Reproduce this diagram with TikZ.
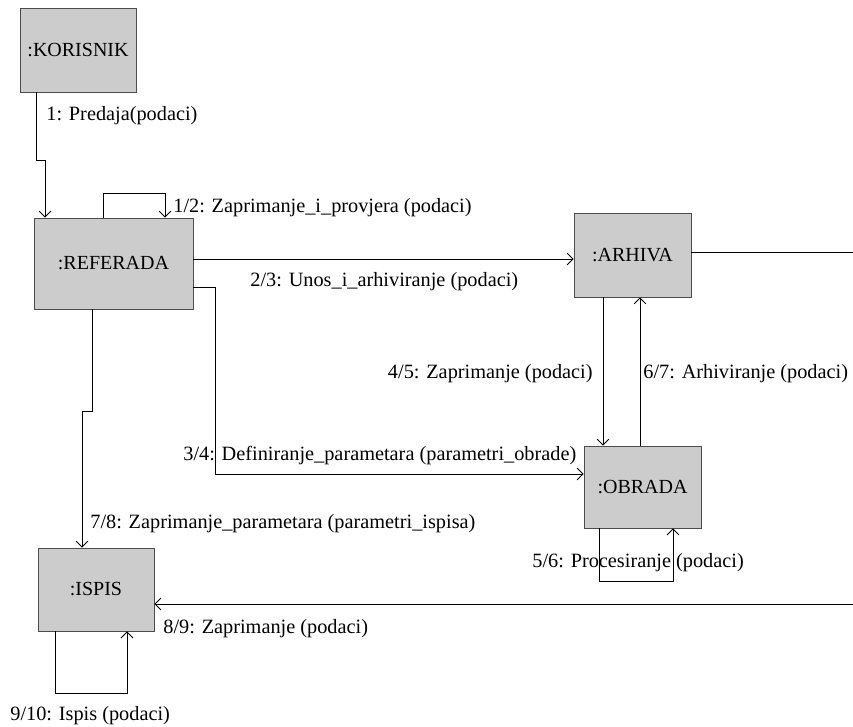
\documentclass[tikz,border=0pt]{standalone}
\usepackage{fontspec}
\setmainfont{Liberation Serif}
\usetikzlibrary{arrows.meta}

\begin{document}
\begin{tikzpicture}[x=1pt,y=-1pt,line width=0.8pt,
  obj/.style={draw=black!70,fill=black!20,font=\fontsize{20}{24}\selectfont},
  lbl/.style={inner sep=0pt,anchor=base west,font=\fontsize{20.3}{24}\selectfont},
  msg/.style={-{Straight Barb[length=6pt,width=12pt]}}]
  \useasboundingbox (0,0) rectangle (853,727);
  \node[obj,minimum width=116pt,minimum height=84pt] (kor) at (78,50) {:KORISNIK};
  \node[obj,minimum width=159pt,minimum height=91pt] (ref) at (113.5,263.5) {:REFERADA};
  \node[obj,minimum width=117pt,minimum height=84pt] (arh) at (632.5,255) {:ARHIVA};
  \node[obj,minimum width=117pt,minimum height=82pt] (obr) at (642.5,487) {:OBRADA};
  \node[obj,minimum width=116pt,minimum height=83pt] (isp) at (96,589.5) {:ISPIS};
  % bend points
  \coordinate (k1) at (36,160); \coordinate (k2) at (45,160);
  \coordinate (r1) at (103,193); \coordinate (r2) at (165,193);
  \coordinate (ra) at (400,259); \coordinate (aout) at (853,252);
  \coordinate (ro1) at (215,287); \coordinate (ro2) at (215,474);
  \coordinate (ao) at (603,370); \coordinate (oa) at (640,370);
  \coordinate (o1) at (599,581); \coordinate (o2) at (673,581);
  \coordinate (iin) at (853,604);
  \coordinate (i1) at (55,693); \coordinate (i2) at (127,693);
  \coordinate (ri1) at (92,411); \coordinate (ri2) at (82,411);
  % messages
  \draw[msg] (k1 |- kor.south) -- (k1) -- (k2) -- (k2 |- ref.north);
  \draw[msg] (r1 |- ref.north) -- (r1) -- (r2) -- (r2 |- ref.north);
  \draw[msg] (ref.east |- ra) -- (arh.west |- ra);
  \draw (arh.east |- aout) -- (aout);
  \draw[msg] (ref.east |- ro1) -- (ro1) -- (ro2) -- (obr.west |- ro2);
  \draw[msg] (ao |- arh.south) -- (ao |- obr.north);
  \draw[msg] (oa |- obr.north) -- (oa |- arh.south);
  \draw[msg] (o1 |- obr.south) -- (o1) -- (o2) -- (o2 |- obr.south);
  \draw[msg] (iin) -- (isp.east |- iin);
  \draw[msg] (i1 |- isp.south) -- (i1) -- (i2) -- (i2 |- isp.south);
  \draw[msg] (ri1 |- ref.south) -- (ri1) -- (ri2) -- (ri2 |- isp.north);
  % labels
  \node[lbl] (m1) at (46,121) {1: Predaja(podaci)};
  \node[lbl] (m2) at (173,213) {1/2: Zaprimanje\_i\_provjera (podaci)};
  \node[lbl] (m3) at (250,286) {2/3: Unos\_i\_arhiviranje (podaci)};
  \node[lbl] (m4) at (183,460) {3/4: Definiranje\_parametara (parametri\_obrade)};
  \node[lbl,anchor=base east] (m5) at (593,378) {4/5: Zaprimanje (podaci)};
  \node[lbl] (m6) at (532,567) {5/6: Procesiranje (podaci)};
  \node[lbl] (m7) at (643,378) {6/7: Arhiviranje (podaci)};
  \node[lbl] (m8) at (90,528) {7/8: Zaprimanje\_parametara (parametri\_ispisa)};
  \node[lbl] (m9) at (163,633) {8/9: Zaprimanje (podaci)};
  \node[lbl] (m10) at (10,720) {9/10: Ispis (podaci)};
\end{tikzpicture}
\end{document}
